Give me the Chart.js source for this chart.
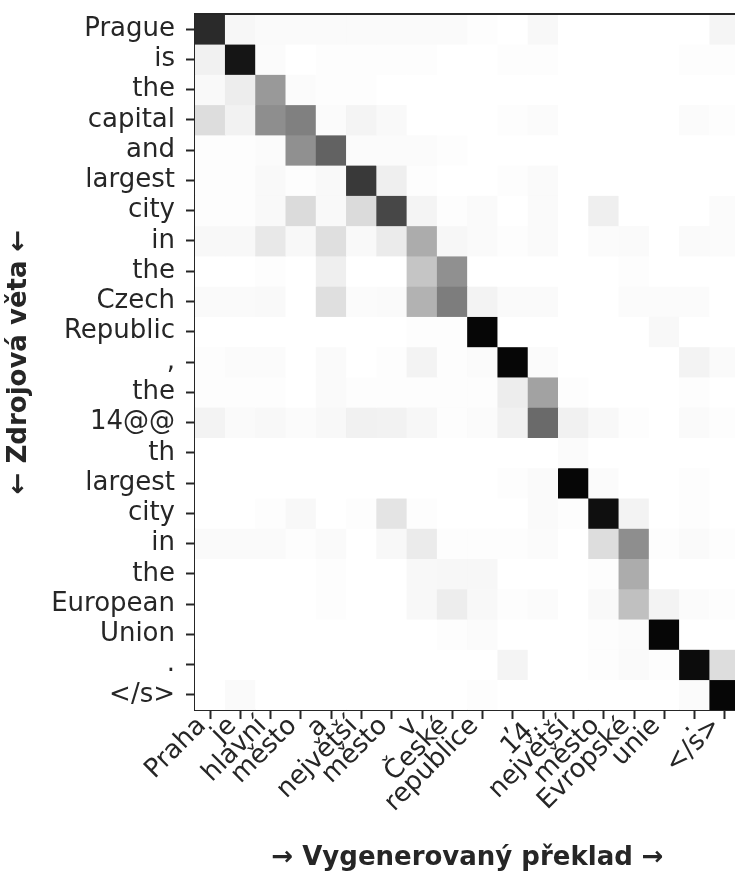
<!DOCTYPE html>
<html>
<head>
<meta charset="utf-8">
<script src="https://cdn.jsdelivr.net/npm/chart.js@4/dist/chart.umd.min.js"></script>
<style>
  html, body { margin: 0; padding: 0; background: #fff; overflow: hidden; }
  #wrap { width: 745px; height: 874px; position: relative; }
</style>
</head>
<body>
<div id="wrap"><canvas id="attn"></canvas></div>
<script>
const sourceTokens = ["Prague", "is", "the", "capital", "and", "largest", "city", "in", "the",
  "Czech", "Republic", ",", "the", "14@@", "th", "largest", "city", "in", "the", "European",
  "Union", ".", "</s>"];

const targetTokens = ["Praha", "je", "hlavní", "město", "a", "největší", "město", "v", "České",
  "republice", ",", "14.", "největší", "město", "Evropské", "unie", ".", "</s>"];

// one row per source token, one value per target token
const rowPrague    = [0.86, 0.07, 0.04, 0.04, 0.04, 0.04, 0.04, 0.04, 0.04, 0.02, 0, 0.06, 0, 0, 0, 0, 0, 0.08];
const rowIs        = [0.12, 0.93, 0.03, 0, 0.02, 0.02, 0.02, 0.02, 0, 0, 0.02, 0.02, 0, 0, 0, 0, 0.02, 0.02];
const rowThe1      = [0.05, 0.14, 0.49, 0.03, 0.02, 0.02, 0, 0, 0, 0, 0, 0, 0, 0, 0, 0, 0, 0];
const rowCapital   = [0.23, 0.11, 0.53, 0.58, 0.03, 0.09, 0.05, 0, 0, 0, 0.02, 0.03, 0, 0, 0, 0, 0.03, 0.02];
const rowAnd       = [0.02, 0.02, 0.03, 0.52, 0.69, 0.03, 0.03, 0.03, 0.02, 0, 0, 0, 0, 0, 0, 0, 0, 0];
const rowLargest1  = [0.02, 0.02, 0.05, 0.02, 0.05, 0.82, 0.13, 0.02, 0, 0, 0.02, 0.04, 0, 0, 0, 0, 0, 0];
const rowCity1     = [0.02, 0.02, 0.05, 0.24, 0.05, 0.24, 0.78, 0.09, 0.02, 0.04, 0, 0.04, 0, 0.13, 0, 0, 0, 0.03];
const rowIn1       = [0.06, 0.06, 0.17, 0.06, 0.22, 0.05, 0.15, 0.43, 0.07, 0.04, 0.02, 0.04, 0, 0.03, 0.04, 0, 0.04, 0.03];
const rowThe2      = [0, 0, 0.02, 0, 0.13, 0, 0, 0.34, 0.52, 0, 0, 0, 0, 0, 0.02, 0, 0, 0];
const rowCzech     = [0.04, 0.04, 0.05, 0, 0.22, 0.03, 0.04, 0.41, 0.59, 0.10, 0.04, 0.04, 0, 0, 0.03, 0.03, 0.03, 0];
const rowRepublic  = [0, 0, 0, 0, 0, 0, 0, 0.02, 0.02, 0.98, 0, 0, 0, 0, 0, 0.06, 0, 0];
const rowComma     = [0.02, 0.03, 0.03, 0, 0.04, 0, 0.02, 0.10, 0.02, 0.03, 0.98, 0.03, 0, 0, 0, 0, 0.10, 0.04];
const rowThe3      = [0.02, 0.02, 0.02, 0, 0.04, 0.02, 0.02, 0.02, 0.02, 0.02, 0.14, 0.46, 0.02, 0, 0, 0, 0.02, 0];
const row14        = [0.10, 0.04, 0.06, 0.03, 0.06, 0.12, 0.11, 0.07, 0.02, 0.03, 0.12, 0.66, 0.12, 0.06, 0.02, 0, 0.04, 0.02];
const rowTh        = [0, 0, 0, 0, 0, 0, 0, 0, 0, 0, 0, 0, 0.03, 0, 0, 0, 0, 0];
const rowLargest2  = [0, 0, 0, 0, 0, 0, 0, 0, 0, 0, 0.02, 0.04, 0.98, 0.03, 0, 0, 0.02, 0];
const rowCity2     = [0, 0, 0.02, 0.06, 0, 0.02, 0.19, 0.02, 0, 0, 0, 0.04, 0.02, 0.95, 0.10, 0, 0.02, 0];
const rowIn2       = [0.04, 0.04, 0.04, 0.02, 0.04, 0, 0.06, 0.15, 0.02, 0.02, 0.02, 0.03, 0, 0.23, 0.53, 0.02, 0.04, 0.02];
const rowThe4      = [0, 0, 0, 0, 0.02, 0, 0, 0.06, 0.07, 0.07, 0, 0, 0, 0.02, 0.43, 0, 0, 0];
const rowEuropean  = [0, 0, 0, 0, 0.02, 0, 0, 0.06, 0.14, 0.06, 0.02, 0.03, 0, 0.05, 0.36, 0.10, 0.03, 0.02];
const rowUnion     = [0, 0, 0, 0, 0, 0, 0, 0, 0.02, 0.03, 0, 0, 0, 0.02, 0.03, 0.98, 0, 0];
const rowPeriod    = [0, 0, 0, 0, 0, 0, 0, 0, 0, 0, 0.09, 0, 0, 0.02, 0.04, 0.02, 0.96, 0.23];
const rowEnd       = [0, 0.04, 0, 0, 0, 0, 0, 0, 0, 0.02, 0, 0, 0, 0, 0, 0, 0.03, 0.98];

const attention = [rowPrague, rowIs, rowThe1, rowCapital, rowAnd, rowLargest1, rowCity1, rowIn1,
  rowThe2, rowCzech, rowRepublic, rowComma, rowThe3, row14, rowTh, rowLargest2, rowCity2, rowIn2,
  rowThe4, rowEuropean, rowUnion, rowPeriod, rowEnd];

// matplotlib "Greys" stops
const greyStops = [255, 240, 217, 189, 150, 115, 82, 37, 0];

function greys(v) {
  const t = Math.max(0, Math.min(1, v)) * (greyStops.length - 1);
  const i = Math.min(Math.floor(t), greyStops.length - 2);
  const g = Math.round(greyStops[i] + (greyStops[i + 1] - greyStops[i]) * (t - i));
  return `rgb(${g},${g},${g})`;
}

const ink = "#262626";
const tickFont = { family: "'DejaVu Sans'", size: 26 };
const titleFont = { family: "'DejaVu Sans'", size: 26, weight: "bold" };

const datasets = attention.map((row, r) => ({
  label: sourceTokens[r],
  data: row.map(() => [r - 0.5, r + 0.5]),
  backgroundColor: row.map(greys),
  borderWidth: 0,
  barPercentage: 1,
  categoryPercentage: 1,
  grouped: false,
}));

const topSpine = {
  id: "topSpine",
  afterDraw(chart) {
    const { ctx, chartArea } = chart;
    ctx.save();
    ctx.strokeStyle = ink;
    ctx.lineWidth = 2;
    ctx.beginPath();
    ctx.moveTo(chartArea.left - 1, chartArea.top);
    ctx.lineTo(chartArea.right, chartArea.top);
    ctx.stroke();
    ctx.restore();
  },
};

new Chart(document.getElementById("attn"), {
  type: "bar",
  data: { labels: targetTokens, datasets },
  plugins: [topSpine],
  options: {
    responsive: true,
    maintainAspectRatio: false,
    animation: false,
    layout: { padding: { top: 14, right: 5, left: 0, bottom: 0 } },
    plugins: { legend: { display: false }, tooltip: { enabled: false } },
    scales: {
      x: {
        type: "category",
        offset: true,
        grid: {
          offset: false,
          drawOnChartArea: false,
          drawTicks: true,
          tickLength: 9,
          tickWidth: 2,
          tickColor: ink,
        },
        border: { display: true, color: ink, width: 2 },
        ticks: {
          autoSkip: false,
          minRotation: 45,
          maxRotation: 45,
          padding: -8,
          labelOffset: -8,
          color: ink,
          font: tickFont,
        },
        title: {
          display: true,
          text: "→ Vygenerovaný překlad →",
          color: ink,
          font: titleFont,
          padding: { top: 0, bottom: 0 },
        },
        afterFit(scale) {
          scale.height = 164;
          scale.paddingLeft = 0;
          scale.paddingRight = 0;
        },
      },
      y: {
        type: "linear",
        reverse: true,
        min: -0.5,
        max: sourceTokens.length - 0.5,
        afterBuildTicks(scale) {
          scale.ticks = sourceTokens.map((t, i) => ({ value: i }));
        },
        grid: {
          drawOnChartArea: false,
          drawTicks: true,
          tickLength: 9,
          tickWidth: 2,
          tickColor: ink,
        },
        border: { display: true, color: ink, width: 2 },
        ticks: {
          autoSkip: false,
          padding: 11,
          color: ink,
          font: tickFont,
          callback: (v) => sourceTokens[v],
        },
        title: {
          display: true,
          text: "← Zdrojová věta ←",
          color: ink,
          font: titleFont,
          padding: { top: 4, bottom: 0 },
        },
        afterFit(scale) {
          scale.width = 195;
          scale.paddingTop = 0;
          scale.paddingBottom = 0;
        },
      },
    },
  },
});
</script>
</body>
</html>
